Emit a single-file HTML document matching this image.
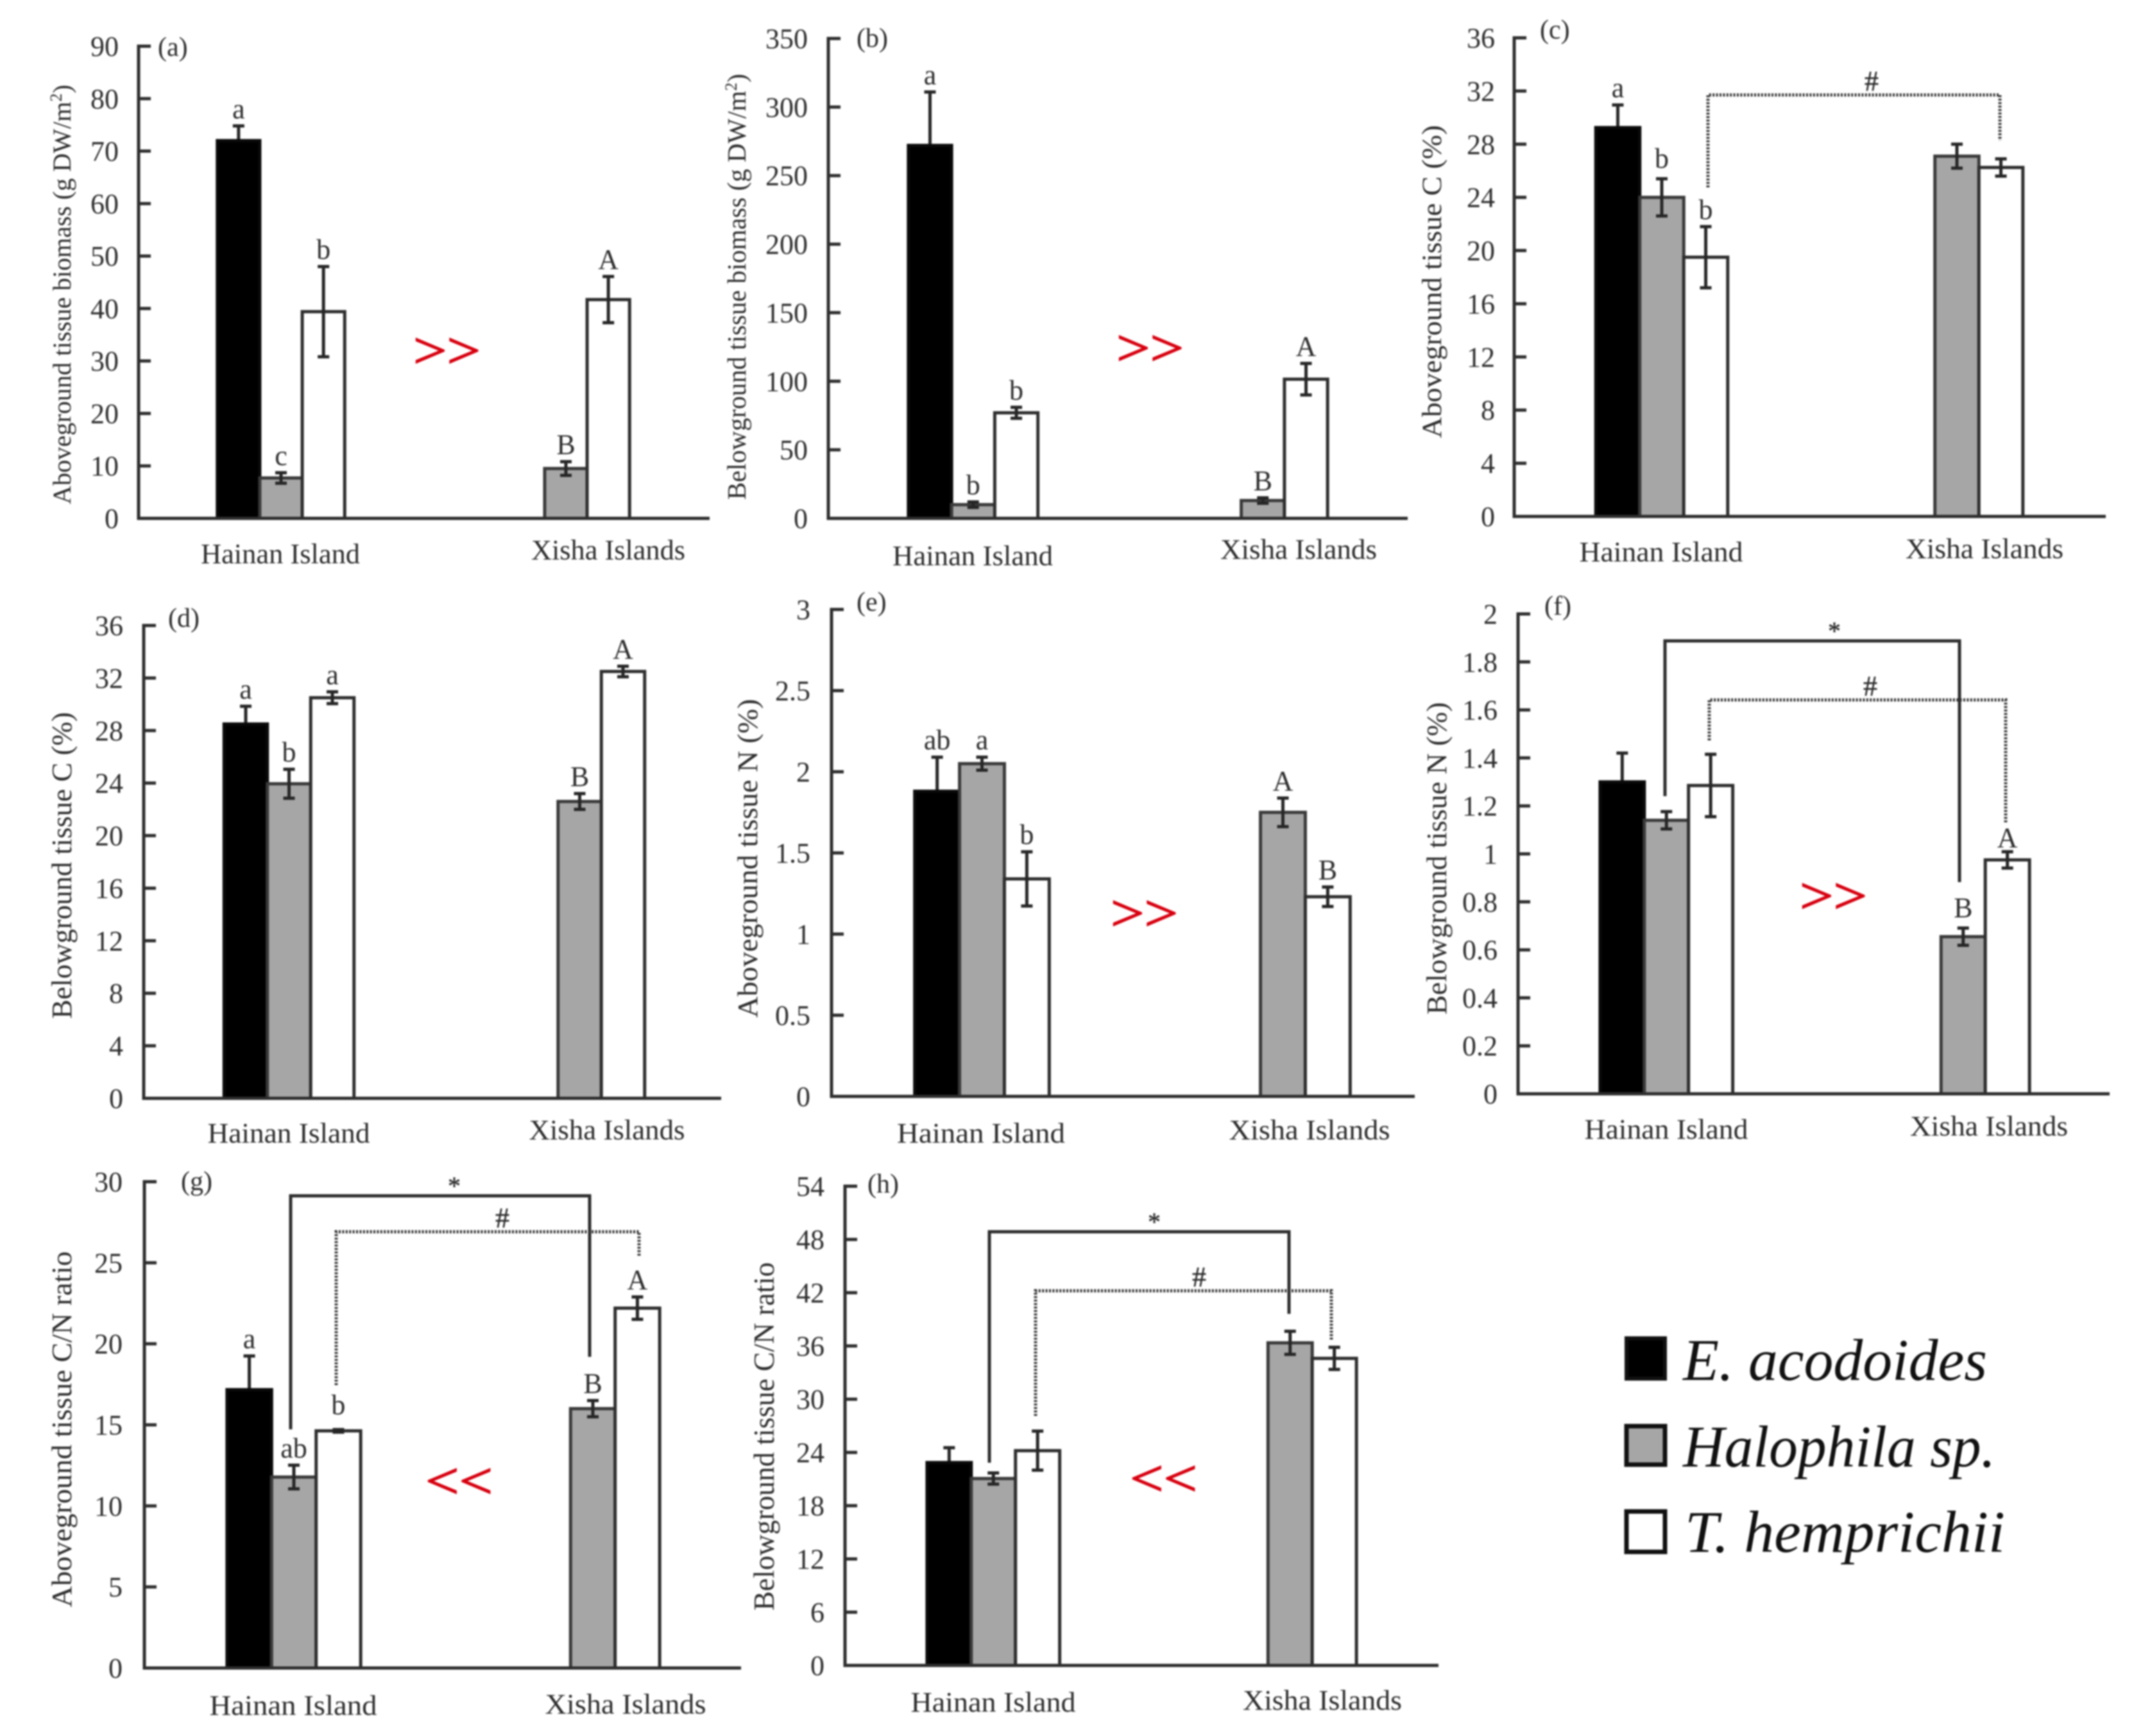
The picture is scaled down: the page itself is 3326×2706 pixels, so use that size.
<!DOCTYPE html>
<html lang="en">
<head>
<meta charset="utf-8">
<title>Seagrass tissue biomass, C, N and C/N ratio</title>
<style>
html,body{margin:0;padding:0;background:#fff;width:3326px;height:2706px;overflow:hidden}
svg{display:block;filter:blur(1.3px)}
text{font-family:"Liberation Serif",serif;fill:#2e2e2e}
</style>
</head>
<body>
<svg id="chart" xmlns="http://www.w3.org/2000/svg" width="3326" height="2706" viewBox="0 0 3326 2706">
  <rect x="0" y="0" width="3326" height="2706" fill="#fff"/>
  <g>
    <rect x="2535" y="2086" width="60" height="63" fill="#000" stroke="#111" stroke-width="6"/>
    <text x="2623" y="2151" font-size="92" font-style="italic" textLength="474" lengthAdjust="spacingAndGlyphs" style="fill:#111">E. acodoides</text>
    <rect x="2535" y="2223" width="60" height="60" fill="#a6a6a6" stroke="#111" stroke-width="7"/>
    <text x="2623" y="2286" font-size="92" font-style="italic" textLength="487" lengthAdjust="spacingAndGlyphs" style="fill:#111">Halophila sp.</text>
    <rect x="2535" y="2356" width="60" height="63" fill="#fff" stroke="#111" stroke-width="7"/>
    <text x="2626" y="2419" font-size="92" font-style="italic" textLength="499" lengthAdjust="spacingAndGlyphs" style="fill:#111">T. hemprichii</text>
  </g>
</svg>
<script>
const groups = ['Hainan Island', 'Xisha Islands'];
const species = ['E. acodoides', 'Halophila sp.', 'T. hemprichii'];

const aTicks = [0, 10, 20, 30, 40, 50, 60, 70, 80, 90];
const aHainan = [72, 7.7, 39.4];
const aHainanErr = [2.8, 1, 8.6];
const aXisha = [null, 9.5, 41.7];
const aXishaErr = [null, 1.3, 4.4];
const aHainanLetters = ['a', 'c', 'b'];
const aXishaLetters = ['', 'B', 'A'];

const bTicks = [0, 50, 100, 150, 200, 250, 300, 350];
const bHainan = [272, 10, 77];
const bHainanErr = [39, 2, 4];
const bXisha = [null, 13, 101.5];
const bXishaErr = [null, 2, 11.5];
const bHainanLetters = ['a', 'b', 'b'];
const bXishaLetters = ['', 'B', 'A'];

const cTicks = [0, 4, 8, 12, 16, 20, 24, 28, 32, 36];
const cHainan = [29.25, 24, 19.5];
const cHainanErr = [1.7, 1.4, 2.3];
const cXisha = [null, 27.1, 26.25];
const cXishaErr = [null, 0.9, 0.65];
const cHainanLetters = ['a', 'b', 'b'];
const cXishaLetters = ['', '', ''];

const dTicks = [0, 4, 8, 12, 16, 20, 24, 28, 32, 36];
const dHainan = [28.5, 23.95, 30.5];
const dHainanErr = [1.35, 1.1, 0.45];
const dXisha = [null, 22.6, 32.5];
const dXishaErr = [null, 0.6, 0.4];
const dHainanLetters = ['a', 'b', 'a'];
const dXishaLetters = ['', 'B', 'A'];

const eTicks = [0, 0.5, 1, 1.5, 2, 2.5, 3];
const eHainan = [1.88, 2.05, 1.34];
const eHainanErr = [0.21, 0.04, 0.167];
const eXisha = [null, 1.75, 1.23];
const eXishaErr = [null, 0.088, 0.06];
const eHainanLetters = ['ab', 'a', 'b'];
const eXishaLetters = ['', 'A', 'B'];

const fTicks = [0, 0.2, 0.4, 0.6, 0.8, 1, 1.2, 1.4, 1.6, 1.8, 2];
const fHainan = [1.3, 1.14, 1.285];
const fHainanErr = [0.12, 0.036, 0.13];
const fXisha = [null, 0.655, 0.975];
const fXishaErr = [null, 0.036, 0.034];
const fHainanLetters = ['', '', ''];
const fXishaLetters = ['', 'B', 'A'];

const gTicks = [0, 5, 10, 15, 20, 25, 30];
const gHainan = [17.17, 11.78, 14.63];
const gHainanErr = [2.08, 0.73, 0.08];
const gXisha = [null, 16, 22.2];
const gXishaErr = [null, 0.5, 0.69];
const gHainanLetters = ['a', 'ab', 'b'];
const gXishaLetters = ['', 'B', 'A'];

const hTicks = [0, 6, 12, 18, 24, 30, 36, 42, 48, 54];
const hHainan = [22.86, 21.06, 24.2];
const hHainanErr = [1.67, 0.63, 2.2];
const hXisha = [null, 36.35, 34.6];
const hXishaErr = [null, 1.3, 1.25];
const hHainanLetters = ['', '', ''];
const hXishaLetters = ['', '', ''];

const panels = [
  {id:'a', ticks:aTicks, hainan:aHainan, hainanErr:aHainanErr, xisha:aXisha, xishaErr:aXishaErr, hainanLetters:aHainanLetters, xishaLetters:aXishaLetters,
   left:216, right:1104, lineEnd:1106, top:72, base:808, title:'Aboveground tissue biomass (g DW/m', sup:true,
   titleX:110, titleY:459, titleLen:654, titleSize:40, tickRight:185,
   lab1:[437,878,248], lab2:[948,872,240], tag:[246,87], arrow:['>>',647,573]},
  {id:'b', ticks:bTicks, hainan:bHainan, hainanErr:bHainanErr, xisha:bXisha, xishaErr:bXishaErr, hainanLetters:bHainanLetters, xishaLetters:bXishaLetters,
   left:1291, right:2194, lineEnd:2194, top:60, base:808, title:'Belowground tissue biomass (g DW/m', sup:true,
   titleX:1162, titleY:447, titleLen:664, titleSize:41, tickRight:1259,
   lab1:[1516,881,250], lab2:[2024,871,244], tag:[1335,73], arrow:['>>',1743,569]},
  {id:'c', ticks:cTicks, hainan:cHainan, hainanErr:cHainanErr, xisha:cXisha, xishaErr:cXishaErr, hainanLetters:cHainanLetters, xishaLetters:cXishaLetters,
   left:2360, right:3280, lineEnd:3282, top:59, base:805, title:'Aboveground tissue C (%)',
   titleX:2246, titleY:439, titleLen:488, titleSize:43, tickRight:2330,
   lab1:[2589,875,255], lab2:[3093,870,246], tag:[2400,60], gapFix:{'0-1':5},
   dotted:[2662,3117,148,292,219,2917]},
  {id:'d', ticks:dTicks, hainan:dHainan, hainanErr:dHainanErr, xisha:dXisha, xishaErr:dXishaErr, hainanLetters:dHainanLetters, xishaLetters:dXishaLetters,
   left:224, right:1130, lineEnd:1124, top:975, base:1712, title:'Belowground tissue C (%)',
   titleX:111, titleY:1349, titleLen:478, titleSize:44, tickRight:192,
   lab1:[450,1781,253], lab2:[946,1776,243], tag:[262,977]},
  {id:'e', ticks:eTicks, hainan:eHainan, hainanErr:eHainanErr, xisha:eXisha, xishaErr:eXishaErr, hainanLetters:eHainanLetters, xishaLetters:eXishaLetters,
   left:1296, right:2234, lineEnd:2205, top:950, base:1709, title:'Aboveground tissue N (%)',
   titleX:1180, titleY:1338, titleLen:497, titleSize:44, tickRight:1263,
   lab1:[1529,1781,262], lab2:[2041,1776,251], tag:[1335,952], arrow:['>>',1734,1450]},
  {id:'f', ticks:fTicks, hainan:fHainan, hainanErr:fHainanErr, xisha:fXisha, xishaErr:fXishaErr, hainanLetters:fHainanLetters, xishaLetters:fXishaLetters,
   left:2366, right:3291, lineEnd:3288, top:957, base:1705, title:'Belowground tissue N (%)',
   titleX:2254, titleY:1338, titleLen:487, titleSize:44, tickRight:2334,
   lab1:[2597,1775,255], lab2:[3100,1770,246], tag:[2407,958], arrow:['>>',2808,1423], gapFix:{'1-1':5,'1-2':-5},
   solid:[2595,3054,999,1241,1375,2859], dotted:[2664,3126,1091,1154,1283,2915]},
  {id:'g', ticks:gTicks, hainan:gHainan, hainanErr:gHainanErr, xisha:gXisha, xishaErr:gXishaErr, hainanLetters:gHainanLetters, xishaLetters:gXishaLetters,
   left:225, right:1157, lineEnd:1155, top:1842, base:2600, title:'Aboveground tissue C/N ratio',
   titleX:111, titleY:2228, titleLen:555, titleSize:44, tickRight:191,
   lab1:[457,2673,261], lab2:[975,2671,251], tag:[282,1855], arrow:['<<',666,2335], gapFix:{'0-2':12},
   solid:[453,919,1864,2228,2115,708], dotted:[524,996,1920,2159,1959,783]},
  {id:'h', ticks:hTicks, hainan:hHainan, hainanErr:hHainanErr, xisha:hXisha, xishaErr:hXishaErr, hainanLetters:hHainanLetters, xishaLetters:hXishaLetters,
   left:1317, right:2242, lineEnd:2242, top:1849, base:2596, title:'Belowground tissue C/N ratio',
   titleX:1206, titleY:2239, titleLen:543, titleSize:45, tickRight:1285,
   lab1:[1548,2668,257], lab2:[2061,2665,248], tag:[1352,1859], arrow:['<<',1764,2331],
   solid:[1542,2009,1920,2280,2048,1799], dotted:[1614,2075,2012,2207,2089,1869]}
];

const NS = 'http://www.w3.org/2000/svg';
const root = document.getElementById('chart');
const INK = '#2e2e2e';
const BAR_FRACTION = 0.0745;
const FILLS = ['#000000', '#a6a6a6', '#ffffff'];
const OUTLINES = ['#0a0a0a', '#3a3a3a', '#2e2e2e'];

function make(tag, parent, attrs, content) {
  const node = document.createElementNS(NS, tag);
  for (const key in attrs) node.setAttribute(key, attrs[key]);
  if (content !== undefined) node.textContent = content;
  parent.appendChild(node);
  return node;
}

function slug(s) {
  return s.toLowerCase().replace(/[^a-z0-9]+/g, '-').replace(/-$/, '');
}

function drawBracket(g, spec, dotted, symbol) {
  const [x1, x2, yTop, yLeft, yRight, labelX] = spec;
  const path = make('polyline', g, {
    points: x1 + ',' + yLeft + ' ' + x1 + ',' + yTop + ' ' + x2 + ',' + yTop + ' ' + x2 + ',' + yRight,
    fill: 'none',
    stroke: dotted ? '#333333' : INK,
    'stroke-width': 5,
    'stroke-dasharray': dotted ? '3 2.4' : 'none'
  });
  
  
  const mark = make('text', g, {
    x: labelX,
    y: dotted ? yTop - 7 : yTop - 2,
    'font-size': dotted ? 44 : 40,
    'text-anchor': 'middle',
    stroke: '#2e2e2e',
    'stroke-width': 0.5
  }, symbol);
  
  
}

function drawPanel(p) {
  const g = make('g', root, {});
  
  

  const yMax = p.ticks[p.ticks.length - 1];
  const yScale = function (v) { return p.base - (v / yMax) * (p.base - p.top); };
  const width = p.right - p.left;
  const barW = width * BAR_FRACTION;
  const xCenter = function (groupIndex) { return p.left + width * (2 * groupIndex + 1) / 4; };
  const xBar = function (groupIndex, seriesIndex) { return xCenter(groupIndex) + (seriesIndex - 1.5) * barW; };

  p.ticks.forEach(function (t) {
    const y = yScale(t);
    if (t !== 0) {
      const tick = make('line', g, {x1: p.left, x2: p.left + 19, y1: y, y2: y, stroke: INK, 'stroke-width': 5});
      
      
    }
    const label = make('text', g, {x: p.tickRight, y: y + 15, 'font-size': 44, 'text-anchor': 'end'}, String(t));
    
    
  });

  const series = [
    {values: p.hainan, errs: p.hainanErr, letters: p.hainanLetters},
    {values: p.xisha, errs: p.xishaErr, letters: p.xishaLetters}
  ];

  function drawError(s, gi, si) {
    const v = s.values[si];
    const cx = xBar(gi, si) + barW / 2;
    const hi = yScale(v + s.errs[si]);
    const lo = yScale(v - s.errs[si]);
    const err = make('path', g, {
      d: 'M' + (cx - 9) + ' ' + hi + 'H' + (cx + 9) + 'M' + cx + ' ' + hi + 'V' + lo + 'M' + (cx - 9) + ' ' + lo + 'H' + (cx + 9),
      fill: 'none', stroke: '#262626', 'stroke-width': 5
    });
    
    
    if (s.letters[si]) {
      const fix = (p.gapFix && p.gapFix[gi + '-' + si]) || 0;
      const letter = make('text', g, {x: cx, y: hi - 12 - fix, 'font-size': 44, 'text-anchor': 'middle'}, s.letters[si]);
      
      
    }
  }

  /* black bars hide the lower half of their error bar, so those go underneath */
  series.forEach(function (s, gi) {
    if (s.values[0] !== null) drawError(s, gi, 0);
  });

  series.forEach(function (s, gi) {
    s.values.forEach(function (v, si) {
      if (v === null) return;
      const yTop = yScale(v);
      const bar = make('rect', g, {
        x: xBar(gi, si), y: yTop, width: barW, height: p.base - yTop,
        fill: FILLS[si], stroke: OUTLINES[si], 'stroke-width': 5
      });
      
      
    });
  });

  const axisY = make('line', g, {x1: p.left, x2: p.left, y1: p.top - 2.5, y2: p.base + 2.5, stroke: INK, 'stroke-width': 5});
  
  
  const axisX = make('line', g, {x1: p.left, x2: p.lineEnd, y1: p.base, y2: p.base, stroke: INK, 'stroke-width': 5});
  
  

  series.forEach(function (s, gi) {
    s.values.forEach(function (v, si) {
      if (v === null || si === 0) return;
      drawError(s, gi, si);
    });
  });

  const title = make('text', g, {
    transform: 'rotate(-90 ' + p.titleX + ' ' + p.titleY + ')',
    x: p.titleX, y: p.titleY, 'font-size': p.titleSize, 'text-anchor': 'middle',
    textLength: p.titleLen, lengthAdjust: 'spacingAndGlyphs'
  }, p.title);
  
  
  if (p.sup) {
    const two = make('tspan', title, {dy: -14, 'font-size': 26}, '2');
    
    
    const close = make('tspan', title, {dy: 14}, ')');
    
    
  }

  [p.lab1, p.lab2].forEach(function (lab, gi) {
    const text = make('text', g, {
      x: lab[0], y: lab[1], 'font-size': 44, 'text-anchor': 'middle',
      textLength: lab[2], lengthAdjust: 'spacingAndGlyphs'
    }, groups[gi]);
    
    
  });

  const tag = make('text', g, {x: p.tag[0], y: p.tag[1], 'font-size': 42}, '(' + p.id + ')');
  
  

  if (p.arrow) {
    const arrow = make('text', g, {
      x: p.arrow[1] - 3, y: p.arrow[2], 'font-size': 79,
      textLength: 105, lengthAdjust: 'spacingAndGlyphs',
      stroke: '#d8000f', 'stroke-width': 1.6, style: 'fill:#d8000f'
    }, p.arrow[0]);
    
    
  }

  if (p.solid) drawBracket(g, p.solid, false, '*');
  if (p.dotted) drawBracket(g, p.dotted, true, '#');
}

panels.forEach(drawPanel);
</script>
</body>
</html>
